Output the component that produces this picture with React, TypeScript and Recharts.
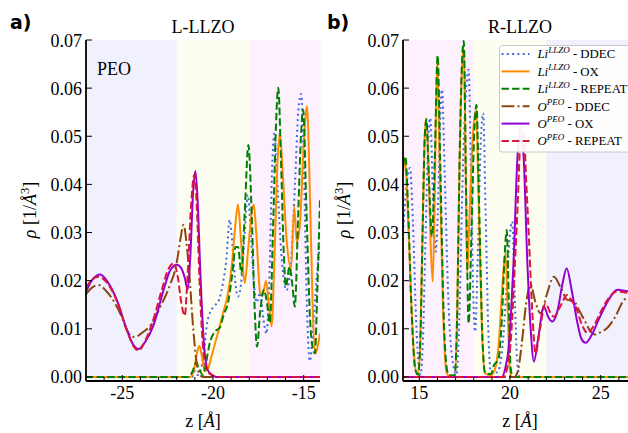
import { LineChart, Line, XAxis, YAxis, CartesianGrid, ReferenceArea } from 'recharts';

type Pt = [number, number];

// ---- panel a: L-LLZO (z < 0) ----
const liDdecL: Pt[] = [
  [-27, 0], [-21.15, 0], [-20.98, 0.0012], [-20.85, 0.0004], [-20.7, 0.0012], [-20.5, 0.005],
  [-20.35, 0.0105], [-20.15, 0.0135], [-19.95, 0.0146], [-19.65, 0.0162], [-19.45, 0.0195],
  [-19.26, 0.0245], [-19.08, 0.0326], [-18.9, 0.0262], [-18.75, 0.019], [-18.62, 0.0167],
  [-18.42, 0.0205], [-18.25, 0.03], [-18.08, 0.0378], [-17.9, 0.029], [-17.7, 0.0175],
  [-17.58, 0.0155], [-17.4, 0.0175], [-17.22, 0.012], [-17.05, 0.009], [-16.88, 0.022],
  [-16.75, 0.042], [-16.62, 0.0505], [-16.45, 0.04], [-16.2, 0.024], [-15.95, 0.018],
  [-15.72, 0.023], [-15.48, 0.04], [-15.3, 0.055], [-15.14, 0.0588], [-14.98, 0.042],
  [-14.8, 0.012], [-14.66, 0.0033], [-14.45, 0.012], [-14.25, 0.022], [-14.1, 0.028],
];
const liOxL: Pt[] = [
  [-27, 0], [-21.25, 0], [-21.05, 0.0015], [-20.88, 0.005], [-20.75, 0.0065], [-20.62, 0.0045],
  [-20.45, 0.0012], [-20.3, 0.0015], [-20.1, 0.004], [-19.9, 0.0068], [-19.7, 0.0095],
  [-19.45, 0.0132], [-19.17, 0.0174], [-18.95, 0.0235], [-18.78, 0.031], [-18.62, 0.0358],
  [-18.45, 0.028], [-18.25, 0.0195], [-18.05, 0.027], [-17.85, 0.0345], [-17.75, 0.0358],
  [-17.6, 0.029], [-17.4, 0.0175], [-17.25, 0.017], [-17.08, 0.02], [-16.92, 0.015],
  [-16.77, 0.0105], [-16.6, 0.026], [-16.45, 0.044], [-16.31, 0.0507], [-16.15, 0.042],
  [-15.95, 0.029], [-15.7, 0.0225], [-15.52, 0.0354], [-15.38, 0.028], [-15.22, 0.031],
  [-15.0, 0.048], [-14.82, 0.0562], [-14.65, 0.037], [-14.5, 0.014], [-14.36, 0.0048],
  [-14.22, 0.0065], [-14.1, 0.009],
];
const liRepeatL: Pt[] = [
  [-27, 0], [-21.35, 0], [-21.12, 0.0012], [-20.92, 0.003], [-20.75, 0.0015], [-20.55, 0.0004],
  [-20.38, 0.003], [-20.18, 0.007], [-19.9, 0.0094], [-19.63, 0.0102], [-19.4, 0.013],
  [-19.17, 0.0154], [-18.95, 0.021], [-18.75, 0.027], [-18.62, 0.027], [-18.43, 0.0215],
  [-18.25, 0.034], [-18.05, 0.0482], [-17.85, 0.032], [-17.7, 0.014], [-17.57, 0.0063],
  [-17.4, 0.0135], [-17.2, 0.0181], [-17.02, 0.0153], [-16.87, 0.0112], [-16.68, 0.032],
  [-16.52, 0.053], [-16.4, 0.0601], [-16.25, 0.045], [-16.1, 0.026], [-15.98, 0.0188],
  [-15.78, 0.0229], [-15.62, 0.019], [-15.49, 0.0146], [-15.3, 0.034], [-15.15, 0.05],
  [-15.03, 0.0555], [-14.85, 0.035], [-14.65, 0.012], [-14.5, 0.006], [-14.38, 0.0049],
  [-14.25, 0.018], [-14.1, 0.0368],
];
const oDdecL: Pt[] = [
  [-27, 0.0172], [-26.65, 0.0186], [-26.3, 0.0191], [-25.9, 0.0179], [-25.6, 0.0165],
  [-25.3, 0.0146], [-25.0, 0.0122], [-24.75, 0.0098], [-24.45, 0.0083], [-24.15, 0.0085],
  [-23.9, 0.0092], [-23.46, 0.0106], [-22.9, 0.0146], [-22.4, 0.0188], [-22.0, 0.0237],
  [-21.8, 0.0285], [-21.62, 0.0316], [-21.45, 0.0275], [-21.29, 0.0208], [-21.1, 0.0105],
  [-20.92, 0.0035], [-20.75, 0.0006], [-20.55, 0], [-14.1, 0],
];
const oOxL: Pt[] = [
  [-27, 0.0177], [-26.65, 0.0202], [-26.22, 0.0213], [-25.8, 0.0197], [-25.3, 0.016],
  [-24.75, 0.0098], [-24.4, 0.0067], [-24.1, 0.0058], [-23.75, 0.0072], [-23.28, 0.0107],
  [-22.72, 0.0181], [-22.35, 0.0222], [-22.0, 0.0233], [-21.75, 0.0226], [-21.55, 0.0205],
  [-21.39, 0.0181], [-21.25, 0.025], [-21.1, 0.038], [-20.97, 0.0428], [-20.85, 0.037],
  [-20.7, 0.022], [-20.5, 0.007], [-20.3, 0.0015], [-20.05, 0.0003], [-19.8, 0], [-14.1, 0],
];
const oRepeatL: Pt[] = [
  [-27, 0.0185], [-26.65, 0.0203], [-26.3, 0.0208], [-25.9, 0.0198], [-25.3, 0.0158],
  [-24.75, 0.0097], [-24.4, 0.0065], [-24.1, 0.0055], [-23.75, 0.0074], [-23.35, 0.0112],
  [-22.82, 0.0181], [-22.45, 0.0225], [-22.17, 0.0236], [-21.95, 0.021], [-21.75, 0.0155],
  [-21.56, 0.0127], [-21.4, 0.021], [-21.2, 0.036], [-21.03, 0.042], [-20.9, 0.036],
  [-20.72, 0.018], [-20.52, 0.005], [-20.3, 0.0012], [-20.05, 0.0004], [-19.8, 0], [-14.1, 0],
];

// ---- panel b: R-LLZO (z > 0) ----
const liDdecR: Pt[] = [
  [14.1, 0.03], [14.3, 0.04], [14.48, 0.0434], [14.65, 0.032], [14.82, 0.012], [14.98, 0.002],
  [15.08, 0.0005], [15.2, 0.008], [15.35, 0.03], [15.48, 0.048], [15.6, 0.0538], [15.75, 0.038],
  [15.9, 0.026], [16.05, 0.038], [16.15, 0.054], [16.25, 0.0597], [16.4, 0.042], [16.6, 0.016],
  [16.85, 0.003], [17.05, 0.0005], [17.2, 0.012], [17.38, 0.04], [17.55, 0.058], [17.72, 0.0638],
  [17.85, 0.042], [17.98, 0.016], [18.08, 0.0094], [18.22, 0.025], [18.38, 0.048], [18.52, 0.0548],
  [18.65, 0.035], [18.8, 0.01], [18.95, 0.0008], [19.3, 0.001], [19.55, 0.005], [19.8, 0.018],
  [19.98, 0.029], [20.12, 0.0323], [20.25, 0.018], [20.4, 0.003], [20.55, 0], [27, 0],
];
const liOxR: Pt[] = [
  [14.1, 0.042], [14.2, 0.0455], [14.35, 0.036], [14.55, 0.016], [14.72, 0.004], [14.88, 0.0005],
  [15.02, 0.004], [15.15, 0.025], [15.28, 0.048], [15.37, 0.0538], [15.5, 0.045], [15.62, 0.028],
  [15.74, 0.0198], [15.85, 0.038], [15.98, 0.0655], [16.12, 0.045], [16.3, 0.015], [16.5, 0.001],
  [16.6, 0.0003], [16.95, 0.0003], [17.08, 0.012], [17.22, 0.045], [17.35, 0.064], [17.45, 0.0683],
  [17.56, 0.042], [17.64, 0.0215], [17.76, 0.033], [17.95, 0.05], [18.12, 0.0555], [18.28, 0.035],
  [18.45, 0.01], [18.62, 0.0008], [18.95, 0.0003], [19.2, 0.002], [19.4, 0.008], [19.58, 0.019],
  [19.75, 0.0257], [19.87, 0.014], [19.98, 0.002], [20.1, 0], [27, 0],
];
const liRepeatR: Pt[] = [
  [14.1, 0.044], [14.23, 0.0458], [14.38, 0.035], [14.58, 0.013], [14.78, 0.0015], [14.93, 0.0005],
  [15.06, 0.008], [15.18, 0.03], [15.3, 0.05], [15.39, 0.0535], [15.52, 0.042], [15.7, 0.0292],
  [15.85, 0.045], [16.01, 0.0668], [16.15, 0.045], [16.35, 0.012], [16.55, 0.001], [16.65, 0.0003],
  [16.95, 0.0003], [17.08, 0.012], [17.22, 0.045], [17.36, 0.066], [17.45, 0.0698], [17.58, 0.038],
  [17.72, 0.0111], [17.86, 0.028], [18.02, 0.05], [18.15, 0.0565], [18.3, 0.035], [18.48, 0.008],
  [18.63, 0.0008], [18.95, 0.0006], [19.12, 0.0025], [19.35, 0.0035], [19.55, 0.012], [19.7, 0.025],
  [19.82, 0.0305], [19.93, 0.016], [20.03, 0.002], [20.15, 0], [27, 0],
];
const oDdecR: Pt[] = [
  [14.1, 0], [20.25, 0], [20.45, 0.0015], [20.65, 0.007], [20.88, 0.015], [21.13, 0.0192],
  [21.4, 0.0155], [21.69, 0.0132], [22.0, 0.0168], [22.42, 0.0208], [22.8, 0.0185], [23.16, 0.016],
  [23.5, 0.0158], [23.8, 0.0139], [24.1, 0.0118], [24.45, 0.0094], [24.7, 0.0088], [25.0, 0.0093],
  [25.37, 0.0102], [25.8, 0.0125], [26.29, 0.016], [26.7, 0.0168], [27, 0.017],
];
const oOxR: Pt[] = [
  [14.1, 0], [19.55, 0], [19.75, 0.002], [19.93, 0.0063], [20.08, 0.015], [20.2, 0.0243],
  [20.4, 0.045], [20.58, 0.052], [20.76, 0.045], [20.95, 0.0243], [21.13, 0.0105], [21.32, 0.0032],
  [21.55, 0.008], [21.87, 0.0146], [22.1, 0.0125], [22.33, 0.0115], [22.6, 0.0135], [22.9, 0.0195],
  [23.12, 0.0226], [23.4, 0.018], [23.7, 0.0115], [23.95, 0.0078], [24.17, 0.0071], [24.5, 0.0087],
  [24.9, 0.012], [25.4, 0.0158], [25.92, 0.0181], [26.47, 0.0178], [27, 0.0175],
];
const oRepeatR: Pt[] = [
  [14.1, 0], [19.65, 0], [19.85, 0.002], [20.05, 0.008], [20.25, 0.022], [20.4, 0.034],
  [20.6, 0.05], [20.75, 0.051], [20.9, 0.04], [21.04, 0.029], [21.22, 0.0139], [21.41, 0.0049],
  [21.65, 0.01], [21.96, 0.0153], [22.2, 0.0135], [22.42, 0.0125], [22.75, 0.0145], [23.16, 0.017],
  [23.4, 0.0158], [23.62, 0.0146], [23.95, 0.011], [24.27, 0.0091], [24.6, 0.0105], [25.0, 0.0135],
  [25.37, 0.016], [25.92, 0.0178], [26.5, 0.0175], [27, 0.0175],
];

// axes
const domainL: [number, number] = [-27, -14.1];
const domainR: [number, number] = [14.1, 27];
const xTicksL = [-26, -25, -24, -23, -22, -21, -20, -19, -18, -17, -16, -15];
const xTicksR = [15, 16, 17, 18, 19, 20, 21, 22, 23, 24, 25, 26];
const xLabelsL = [-25, -20, -15];
const xLabelsR = [15, 20, 25];
const yTicks = [0, 0.01, 0.02, 0.03, 0.04, 0.05, 0.06, 0.07];
const yDomain: [number, number] = [-0.00085, 0.07];

// region edges (PEO | interface | LLZO)
const edgesL = [-27, -22, -18, -14.1];
const edgesR = [14.1, 18, 22, 27];

const BLUE_BG = '#f1f1fd';
const YELLOW_BG = '#fdfdf1';
const PINK_BG = '#fdf1fd';

const SERIF = "'Liberation Serif', 'Times New Roman', serif";
const SANS = "'DejaVu Sans', sans-serif";
const serifStyle = { fontFamily: SERIF };

const SERIES = [
  { id: 'liDdec', sp: 'Li', sup: 'LLZO', method: 'DDEC', color: '#4169e1', dash: '2 3.3' },
  { id: 'liOx', sp: 'Li', sup: 'LLZO', method: 'OX', color: '#ff8c00', dash: undefined },
  { id: 'liRepeat', sp: 'Li', sup: 'LLZO', method: 'REPEAT', color: '#008000', dash: '7.4 3.2' },
  { id: 'oDdec', sp: 'O', sup: 'PEO', method: 'DDEC', color: '#8b4513', dash: '12.8 3.2 2 3.2' },
  { id: 'oOx', sp: 'O', sup: 'PEO', method: 'OX', color: '#9400d3', dash: undefined },
  { id: 'oRepeat', sp: 'O', sup: 'PEO', method: 'REPEAT', color: '#dc143c', dash: '7.4 3.2' },
];

const toRows = (pts: Pt[]) => pts.map(([z, rho]) => ({ z, rho }));

const AXIS = { stroke: '#000', strokeWidth: 1.8 };

const bottomTick = (labels: number[]) => (p: any) => {
  const v = p.payload.value;
  const major = labels.includes(v);
  return (
    <g>
      <line x1={p.x} y1={p.y} x2={p.x} y2={p.y - (major ? 6 : 4)} stroke="#000" strokeWidth={1} />
      {major ? (
        <text x={p.x} y={p.y + 17.5} textAnchor="middle" fontSize={18} fontFamily={SERIF} style={serifStyle} fill="#000">{v}</text>
      ) : null}
    </g>
  );
};

const topTick = (labels: number[]) => (p: any) => {
  const major = labels.includes(p.payload.value);
  return <line x1={p.x} y1={p.y} x2={p.x} y2={p.y + (major ? 6 : 4)} stroke="#000" strokeWidth={1} />;
};

const leftTick = (p: any) => (
  <g>
    <line x1={p.x} y1={p.y} x2={p.x + 6} y2={p.y} stroke="#000" strokeWidth={1} />
    <text x={p.x - 4} y={p.y + 6.5} textAnchor="end" fontSize={18} fontFamily={SERIF} style={serifStyle} fill="#000">
      {Number(p.payload.value).toFixed(2)}
    </text>
  </g>
);

const rightTick = (p: any) => <line x1={p.x} y1={p.y} x2={p.x - 6} y2={p.y} stroke="#000" strokeWidth={1} />;

interface PanelProps {
  left: number;
  domain: [number, number];
  xTicks: number[];
  xLabels: number[];
  edges: number[];
  fills: string[];
  data: Pt[][];
}

function Panel({ left, domain, xTicks, xLabels, edges, fills, data }: PanelProps) {
  return (
    <div style={{ position: 'absolute', left, top: 0 }}>
      <LineChart width={330} height={433} margin={{ top: 40, right: 10, bottom: 22, left: 0 }}>
        {fills.map((f, i) => (
          <ReferenceArea key={i} x1={edges[i]} x2={edges[i + 1]} fill={f} fillOpacity={1} stroke="none" ifOverflow="hidden" />
        ))}
        <CartesianGrid horizontal={false} stroke="#000" strokeOpacity={0.06} />
        <XAxis
          dataKey="z" type="number" domain={domain} ticks={xTicks} interval={0} allowDataOverflow
          height={30} tickSize={0} tickMargin={0} tickLine={false} axisLine={AXIS} tick={bottomTick(xLabels)}
        />
        <XAxis
          xAxisId="top" orientation="top" type="number" domain={domain} ticks={xTicks} interval={0} allowDataOverflow
          height={0} tickSize={0} tickMargin={0} tickLine={false} axisLine={AXIS} tick={topTick(xLabels)}
        />
        <YAxis
          type="number" domain={yDomain} ticks={yTicks} interval={0} allowDataOverflow
          width={86} tickSize={0} tickMargin={0} tickLine={false} axisLine={AXIS} tick={leftTick}
        />
        <YAxis
          yAxisId="r" orientation="right" type="number" domain={yDomain} ticks={yTicks} interval={0} allowDataOverflow
          width={0} tickSize={0} tickMargin={0} tickLine={false} axisLine={AXIS} tick={rightTick}
        />
        {SERIES.map((s, i) => (
          <Line
            key={s.id} data={toRows(data[i])} dataKey="rho" type="monotone"
            stroke={s.color} strokeWidth={2} strokeDasharray={s.dash}
            dot={false} activeDot={false} isAnimationActive={false}
          />
        ))}
      </LineChart>
    </div>
  );
}

function YLabel({ x }: { x: number }) {
  return (
    <text transform={`translate(${x},210) rotate(-90)`} textAnchor="middle" fontSize={18} fontFamily={SERIF} fill="#000">
      <tspan fontStyle="italic">ρ</tspan> [1/<tspan fontStyle="italic">Å</tspan>
      <tspan fontSize={12.5} dy={-7}>3</tspan>
      <tspan dy={7}>]</tspan>
    </text>
  );
}

function XLabel({ x }: { x: number }) {
  return (
    <text x={x} y={427} textAnchor="middle" fontSize={18} fontFamily={SERIF} fill="#000">
      z [<tspan fontStyle="italic">Å</tspan>]
    </text>
  );
}

export default function App() {
  return (
    <div style={{ position: 'absolute', left: 0, top: 0, width: 628, height: 433, overflow: 'hidden', background: '#fff' }}>
      <Panel
        left={0} domain={domainL} xTicks={xTicksL} xLabels={xLabelsL} edges={edgesL}
        fills={[BLUE_BG, YELLOW_BG, PINK_BG]}
        data={[liDdecL, liOxL, liRepeatL, oDdecL, oOxL, oRepeatL]}
      />
      <Panel
        left={316.7} domain={domainR} xTicks={xTicksR} xLabels={xLabelsR} edges={edgesR}
        fills={[PINK_BG, YELLOW_BG, BLUE_BG]}
        data={[liDdecR, liOxR, liRepeatR, oDdecR, oOxR, oRepeatR]}
      />
      <svg width={628} height={433} style={{ position: 'absolute', left: 0, top: 0, pointerEvents: 'none' }}>
        <text x={10} y={29} fontSize={19} fontWeight="bold" fontFamily={SANS} fill="#000">a)</text>
        <text x={327} y={29} fontSize={19} fontWeight="bold" fontFamily={SANS} fill="#000">b)</text>
        <text x={203} y={33} textAnchor="middle" fontSize={18} fontFamily={SERIF} fill="#000">L-LLZO</text>
        <text x={520} y={33} textAnchor="middle" fontSize={18} fontFamily={SERIF} fill="#000">R-LLZO</text>
        <text x={97} y={75} fontSize={18} fontFamily={SERIF} fill="#000">PEO</text>
        <YLabel x={36} />
        <YLabel x={350} />
        <XLabel x={203} />
        <XLabel x={520} />
        <g>
          <rect x={499.5} y={45.5} width={150} height={106.5} rx={3} fill="#fff" fillOpacity={0.93} stroke="#c8c8c8" />
          {SERIES.map((s, i) => {
            const cy = 54 + i * 17.4;
            return (
              <g key={s.id}>
                <line x1={501.5} x2={529.5} y1={cy} y2={cy} stroke={s.color} strokeWidth={2} strokeDasharray={s.dash} />
                <text x={537.5} y={cy + 4.3} fontSize={12.8} fontFamily={SERIF} fill="#000">
                  <tspan fontStyle="italic">{s.sp}</tspan>
                  <tspan fontStyle="italic" fontSize={9} dy={-5.5}>{s.sup}</tspan>
                  <tspan dy={5.5}>{` - ${s.method}`}</tspan>
                </text>
              </g>
            );
          })}
        </g>
      </svg>
    </div>
  );
}
